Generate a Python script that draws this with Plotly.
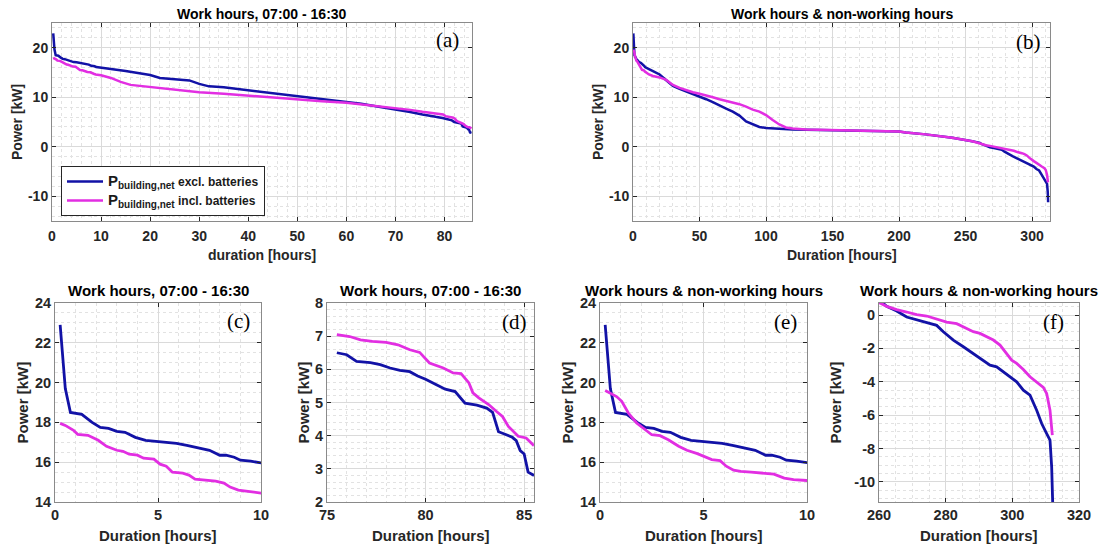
import plotly.graph_objects as go

# ---- Load-duration data (hours sorted by descending power) ----
# Work hours only (07:00 - 16:30)
work_excl_h = [0.25, 0.5, 0.75, 1.1, 1.3, 1.8, 2.2, 2.6, 3.0, 3.4, 3.9, 4.4, 5.0, 5.4, 5.9,
               6.4, 6.9, 7.5, 8.0, 8.3, 8.7, 9.0, 9.5, 10.0, 12, 15, 18, 20, 22, 25, 28, 30,
               32, 35, 40, 45, 50, 55, 60, 63, 66, 70, 73, 75.5, 76.0, 76.5, 77.2, 77.7,
               78.2, 78.7, 79.2, 79.6, 80.0, 80.5, 81.0, 81.5, 82.0, 82.6, 83.1, 83.4, 83.7,
               84.0, 84.4, 84.6, 84.8, 85.0, 85.2, 85.5]
work_excl_kw = [22.9, 19.7, 18.5, 18.45, 18.4, 18.0, 17.75, 17.7, 17.55, 17.5, 17.25, 17.1,
                17.05, 17.0, 16.95, 16.85, 16.75, 16.6, 16.35, 16.35, 16.25, 16.1, 16.05,
                15.97, 15.7, 15.3, 14.9, 14.5, 13.9, 13.6, 13.4, 12.7, 12.2, 12.0, 11.4, 10.8,
                10.3, 9.7, 9.1, 8.7, 8.2, 7.6, 7.0, 6.5, 6.44, 6.24, 6.2, 6.14, 6.04, 5.97,
                5.93, 5.8, 5.7, 5.55, 5.4, 5.33, 4.98, 4.92, 4.83, 4.7, 4.12, 4.05, 3.95,
                3.85, 3.55, 3.45, 2.9, 2.8]

work_incl_h = [0.25, 0.5, 0.9, 1.1, 1.6, 2.1, 2.5, 3.0, 3.3, 3.6, 4.0, 4.3, 4.8, 5.1, 5.4,
               5.7, 6.2, 6.5, 6.8, 7.2, 7.8, 8.2, 8.5, 8.9, 9.3, 9.7, 10.0, 12, 14, 16, 18,
               20, 25, 30, 35, 40, 45, 50, 55, 60, 65, 70, 73, 75.5, 76.15, 76.7, 77.3,
               78.0, 78.6, 79.2, 79.7, 80.2, 80.9, 81.4, 81.8, 82.2, 82.4, 82.7, 83.2, 83.6,
               83.9, 84.2, 84.7, 85.1, 85.5]
work_incl_kw = [17.95, 17.85, 17.6, 17.4, 17.35, 17.1, 16.8, 16.6, 16.55, 16.4, 16.35, 16.2,
                16.15, 15.9, 15.8, 15.5, 15.45, 15.35, 15.15, 15.1, 15.05, 14.95, 14.75,
                14.6, 14.55, 14.5, 14.45, 13.9, 13.1, 12.5, 12.3, 12.1, 11.5, 11.0, 10.7,
                10.3, 9.9, 9.5, 9.2, 8.9, 8.4, 7.9, 7.45, 7.05, 6.99, 6.89, 6.84, 6.81,
                6.74, 6.59, 6.51, 6.19, 6.04, 5.89, 5.87, 5.59, 5.29, 5.14, 4.94, 4.73,
                4.58, 4.28, 3.98, 3.93, 3.7]

# Work hours & non-working hours
all_excl_h = [0.25, 0.5, 0.75, 1.1, 1.3, 1.8, 2.2, 2.6, 3.0, 3.4, 3.9, 4.4, 5.0, 5.4, 5.9,
              6.4, 6.9, 7.5, 8.0, 8.3, 8.7, 9.0, 9.5, 10.0, 12, 15, 18, 20, 23, 25, 28, 30,
              35, 40, 45, 50, 55, 60, 65, 70, 75, 80, 85, 90, 95, 100, 110, 120, 150, 180,
              200, 205, 220, 240, 250, 255, 260.8, 262.3, 265.3, 268.3, 271.3, 274.3,
              277.3, 279.3, 282.3, 285.3, 288.3, 291.3, 293.3, 295.3, 297.3, 299.3, 301.3,
              303.3, 305.3, 307.3, 308.8, 310.3, 311.3, 311.8, 312.0, 312.1]
all_excl_kw = [22.9, 19.7, 18.5, 18.45, 18.4, 18.0, 17.75, 17.7, 17.55, 17.5, 17.25, 17.1,
               17.05, 17.0, 16.95, 16.85, 16.75, 16.6, 16.35, 16.35, 16.25, 16.1, 16.05,
               15.97, 15.7, 15.3, 14.9, 14.6, 13.9, 13.4, 12.8, 12.3, 11.7, 11.2, 10.7,
               10.2, 9.6, 9.0, 8.3, 7.7, 7.1, 6.3, 5.1, 4.5, 4.0, 3.8, 3.6, 3.5, 3.35,
               3.25, 3.1, 2.9, 2.5, 1.8, 1.4, 1.1, 0.78, 0.52, 0.24, -0.12, -0.28, -0.42,
               -0.62, -1.0, -1.5, -1.9, -2.3, -2.7, -3.0, -3.1, -3.4, -3.7, -4.0, -4.5,
               -4.8, -5.7, -6.5, -7.1, -7.5, -9.1, -10.5, -11.2]

all_incl_h = [0.25, 0.8, 1.05, 1.37, 1.77, 2.1, 2.5, 2.9, 3.3, 3.8, 4.2, 4.7, 5.0, 5.4, 5.8,
              6.1, 6.45, 6.8, 7.3, 7.9, 8.4, 8.9, 9.35, 10.0, 12, 15, 20, 25, 30, 35, 40,
              45, 50, 55, 60, 65, 70, 75, 80, 85, 90, 95, 100, 105, 110, 115, 120, 130,
              150, 180, 200, 205, 220, 240, 250, 255, 260.3, 262.3, 265.3, 268.3, 271.3,
              274.3, 277.3, 280.3, 283.3, 286.3, 288.3, 290.3, 292.3, 294.3, 296.3, 297.8,
              299.8, 301.3, 303.3, 305.3, 307.3, 309.3, 310.3, 311.3, 312.0]
all_incl_kw = [19.6, 19.3, 19.06, 18.47, 17.97, 17.7, 17.38, 17.33, 17.13, 16.8, 16.6,
               16.43, 16.3, 16.13, 16.08, 15.8, 15.6, 15.54, 15.5, 15.45, 15.4, 15.2, 15.12,
               15.08, 14.6, 14.3, 14.0, 13.5, 12.5, 11.9, 11.4, 11.0, 10.7, 10.4, 10.0, 9.6,
               9.3, 9.0, 8.6, 8.1, 7.5, 7.1, 6.4, 5.4, 4.5, 3.9, 3.7, 3.5, 3.35, 3.25, 3.1,
               2.9, 2.5, 1.8, 1.4, 1.1, 0.72, 0.52, 0.32, 0.18, 0.02, -0.06, -0.22, -0.42,
               -0.52, -0.82, -1.0, -1.1, -1.3, -1.5, -1.8, -2.2, -2.7, -2.9, -3.26, -3.7,
               -4.0, -4.33, -4.7, -5.7, -7.2]

# Tick values per panel (x ticks, y ticks)
ticks_x = {1: [0, 10, 20, 30, 40, 50, 60, 70, 80], 2: [0, 50, 100, 150, 200, 250, 300],
           3: [0, 5, 10], 4: [75, 80, 85], 5: [0, 5, 10], 6: [260, 280, 300, 320]}
ticks_y = {1: [-10, 0, 10, 20], 2: [-10, 0, 10, 20], 3: [14, 16, 18, 20, 22, 24],
           4: [2, 3, 4, 5, 6, 7, 8], 5: [14, 16, 18, 20, 22, 24],
           6: [-10, -8, -6, -4, -2, 0]}

# Tail of the work-hours curves shown in the zoomed panel
tail_start = 75.5
tail_excl = [(h, p) for h, p in zip(work_excl_h, work_excl_kw) if h >= tail_start]
tail_incl = [(h, p) for h, p in zip(work_incl_h, work_incl_kw) if h >= tail_start]

BLUE = "#1212a6"
MAGENTA = "#e22ee2"
P_LABEL = ("<span style='font-size:15px'>P</span>"
           "<sub><span style='font-size:10px'>building,net</span></sub>")
LBL_EXCL = P_LABEL + " excl. batteries"
LBL_INCL = P_LABEL + " incl. batteries"

W, H = 1103, 546


def px_x(p):
    return p / W


def px_y(p):
    return 1 - p / H


def tick_text(vals):
    # bold labels, plain hyphen for negative numbers
    return ["<b>" + (("-" + str(abs(v))) if v < 0 else str(v)) + "</b>" for v in vals]


# panel geometry in pixels: (left, right, top, bottom)
panels = {
    1: (52, 472, 23, 221),
    2: (633, 1050, 23, 221),
    3: (55, 261, 303, 502),
    4: (327, 534, 303, 502),
    5: (600, 807, 303, 502),
    6: (879, 1079, 303, 502),
}

fig = go.Figure()

series = [
    (1, work_excl_h, work_excl_kw, work_incl_h, work_incl_kw, True),
    (2, all_excl_h, all_excl_kw, all_incl_h, all_incl_kw, False),
    (3, work_excl_h, work_excl_kw, work_incl_h, work_incl_kw, False),
    (4, [h for h, _ in tail_excl], [p for _, p in tail_excl],
     [h for h, _ in tail_incl], [p for _, p in tail_incl], False),
    (5, all_excl_h, all_excl_kw, all_incl_h, all_incl_kw, False),
    (6, all_excl_h, all_excl_kw, all_incl_h, all_incl_kw, False),
]

for k, xe, ye, xi, yi, show in series:
    sfx = "" if k == 1 else str(k)
    lw = 2.5 if k <= 2 else 2.8
    fig.add_trace(go.Scatter(x=xe, y=ye, mode="lines", name=LBL_EXCL,
                             line=dict(color=BLUE, width=lw),
                             xaxis="x" + sfx, yaxis="y" + sfx, showlegend=show))
    fig.add_trace(go.Scatter(x=xi, y=yi, mode="lines", name=LBL_INCL,
                             line=dict(color=MAGENTA, width=lw),
                             xaxis="x" + sfx, yaxis="y" + sfx, showlegend=show))

# axis ranges and minor spacing: (xrange, xminor, yrange, yminor)
axes_cfg = {
    1: ([0, 85.6], 2, [-15, 25], 2),
    2: ([0, 313.5], 10, [-15, 25], 2),
    3: ([0, 10], 1, [14, 24], 0.5),
    4: ([75, 85.5], 1, [2, 8], 0.2),
    5: ([0, 10], 1, [14, 24], 0.5),
    6: ([260, 320], 5, [-11.2, 0.72], 0.5),
}

FONT = "Arial, 'Liberation Sans', sans-serif"
GRID = "#dadada"
MINOR_GRID = "#e2e2e2"
FRAME = "#8a8a8a"

layout = dict(
    template="none",
    width=W, height=H,
    margin=dict(l=0, r=0, t=0, b=0, pad=0, autoexpand=False),
    paper_bgcolor="white", plot_bgcolor="white",
    font=dict(family=FONT, color="#262626"),
    showlegend=True,
    legend=dict(x=px_x(61), y=px_y(166), xanchor="left", yanchor="top",
                bgcolor="white", bordercolor="#262626", borderwidth=1,
                font=dict(family=FONT, size=12, color="#1a1a1a", weight="bold"),
                tracegroupgap=0, itemwidth=36),
)

for k, (xr, xm, yr, ym) in axes_cfg.items():
    l, r, t, b = panels[k]
    sfx = "" if k == 1 else str(k)
    tick_size = 14 if k <= 2 else 14.5
    common = dict(showline=True, linecolor=FRAME, linewidth=1, mirror="ticks",
                  ticks="inside", ticklen=4, tickcolor="#262626", tickwidth=1,
                  showgrid=True, gridcolor=GRID, gridwidth=1, zeroline=False,
                  automargin=False,
                  tickfont=dict(family=FONT, size=tick_size, color="#262626", weight="bold"))
    layout["xaxis" + sfx] = dict(
        domain=[px_x(l), px_x(r)], range=xr, tickmode="array",
        tickvals=ticks_x[k], ticktext=tick_text(ticks_x[k]),
        anchor="y" + sfx, ticklabelstandoff=2 if k <= 2 else 0,
        minor=dict(dtick=xm, tick0=0, showgrid=True, gridcolor=MINOR_GRID, griddash="dot",
                   ticks=""),
        **common)
    layout["yaxis" + sfx] = dict(
        domain=[px_y(b), px_y(t)], range=yr, tickmode="array",
        tickvals=ticks_y[k], ticktext=tick_text(ticks_y[k]),
        anchor="x" + sfx,
        minor=dict(dtick=ym, tick0=0, showgrid=True, gridcolor=MINOR_GRID, griddash="dot",
                   ticks=""),
        **common)

fig.update_layout(**layout)

titles = {
    1: "Work hours, 07:00 - 16:30",
    2: "Work hours & non-working hours",
    3: "Work hours, 07:00 - 16:30",
    4: "Work hours, 07:00 - 16:30",
    5: "Work hours & non-working hours",
    6: "Work hours & non-working hours",
}
xlabels = {1: "duration [hours]", 2: "Duration [hours]", 3: "Duration [hours]",
           4: "Duration [hours]", 5: "Duration [hours]", 6: "Duration [hours]"}
ylabel_x = {1: 17, 2: 598, 3: 22, 4: 303, 5: 567, 6: 835}
letters = {1: ("(a)", 447, 40), 2: ("(b)", 1028, 42), 3: ("(c)", 238, 321),
           4: ("(d)", 514, 322), 5: ("(e)", 785, 322), 6: ("(f)", 1053, 322)}

for k in panels:
    l, r, t, b = panels[k]
    cx = (l + r) / 2
    cy = (t + b) / 2
    top = k <= 2
    tsize = 14 if top else 15
    title_y = 14 if top else 290
    xlab_y = 255 if top else 535
    fig.add_annotation(text=titles[k], x=px_x(cx), y=px_y(title_y), xref="paper", yref="paper",
                       xanchor="center", yanchor="middle", showarrow=False,
                       font=dict(family=FONT, size=tsize, color="black", weight="bold"))
    fig.add_annotation(text=xlabels[k], x=px_x(cx), y=px_y(xlab_y), xref="paper", yref="paper",
                       xanchor="center", yanchor="middle", showarrow=False,
                       font=dict(family=FONT, size=tsize, color="#262626", weight="bold"))
    fig.add_annotation(text="Power [kW]", x=px_x(ylabel_x[k]), y=px_y(cy), xref="paper",
                       yref="paper", xanchor="center", yanchor="middle", showarrow=False,
                       textangle=-90,
                       font=dict(family=FONT, size=tsize, color="#262626", weight="bold"))
    txt, lx, ly = letters[k]
    fig.add_annotation(text=txt, x=px_x(lx), y=px_y(ly), xref="paper", yref="paper",
                       xanchor="center", yanchor="middle", showarrow=False,
                       font=dict(family="'Liberation Serif', 'Times New Roman', serif",
                                 size=21, color="black"))

fig.write_html("out.html")
